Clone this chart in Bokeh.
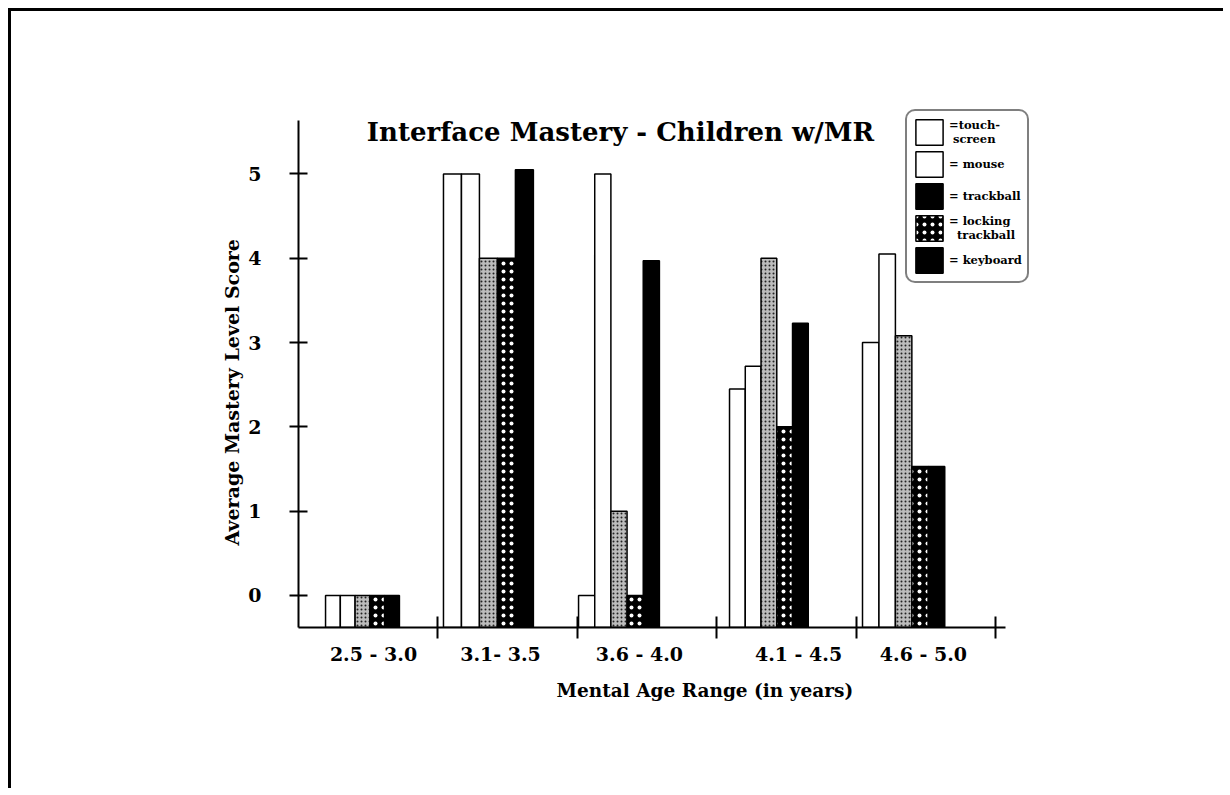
from bokeh.plotting import figure
from bokeh.models import Range1d, FixedTicker, Legend, LegendItem, Title, Label
from bokeh.embed import file_html
from bokeh.resources import INLINE

# ---------------- data ----------------
age_ranges = ["2.5 - 3.0", "3.1- 3.5", "3.6 - 4.0", "4.1 - 4.5", "4.6 - 5.0"]
touch_screen = [0, 5, 0, 2.45, 3.0]
mouse = [0, 5, 5, 2.72, 4.05]
trackball = [0, 4, 1, 4, 3.08]
locking_trackball = [0, 4, 0, 2, 1.53]
keyboard = [0, 5.05, 3.97, 3.23, 1.53]
y_ticks = [0, 1, 2, 3, 4, 5]

# ---------------- layout (positions in axis units) ----------------
group_offset = [0.194, 0.040, 0.009, 0.092, 0.046]
bar_width = [0.106, 0.129, 0.116, 0.113, 0.118]
label_pos = [0.538, 1.449, 2.446, 3.587, 4.483]
group_edges = [1, 2, 3, 4, 5]
Y_START, Y_END, Y_AXIS_TOP = -0.38, 5.812, 5.63
X_END, X_AXIS_END = 5.287, 5.07

FONT = "DejaVu Serif"

p = figure(width=1215, height=780, output_backend="svg", toolbar_location=None,
           x_range=Range1d(0, X_END), y_range=Range1d(Y_START, Y_END),
           min_border_left=287, min_border_right=191, min_border_top=94,
           min_border_bottom=164)
p.styles = {"border-top": "3px solid black", "border-left": "3px solid black",
            "margin-top": "8px", "margin-left": "8px"}
p.grid.visible = False
p.outline_line_color = None
p.background_fill_color = "white"
p.border_fill_color = "white"

series = [
    ("touch", touch_screen, dict(fill_color="white")),
    ("mouse", mouse, dict(fill_color="white")),
    ("trackball", trackball, dict(fill_color="#bcbcbc", hatch_pattern="dot",
                                  hatch_color="#222222", hatch_scale=4, hatch_weight=1)),
    ("locking", locking_trackball, dict(fill_color="black", hatch_pattern="dot",
                                        hatch_color="white", hatch_scale=8, hatch_weight=2)),
    ("keyboard", keyboard, dict(fill_color="black")),
]

renderers = {}
for k, (name, vals, style) in enumerate(series):
    xs = [g + group_offset[g] + (k + 0.5) * bar_width[g] for g in range(len(vals))]
    r = p.vbar(x=xs, width=bar_width, top=vals, bottom=Y_START,
               line_color="black", line_width=1.5, **style)
    renderers[name] = r

# ---------------- axes ----------------
xa = p.xaxis[0]
xa.bounds = (0, X_AXIS_END)
xa.ticker = FixedTicker(ticks=label_pos, minor_ticks=group_edges)
xa.major_label_overrides = {pos: lab for pos, lab in zip(label_pos, age_ranges)}
xa.major_tick_line_color = None
xa.major_tick_in = 0
xa.major_tick_out = 0
xa.minor_tick_in = 11
xa.minor_tick_out = 11
xa.minor_tick_line_width = 2
xa.minor_tick_line_color = "black"
xa.axis_line_width = 2
xa.axis_line_color = "black"
xa.major_label_standoff = 4
xa.major_label_text_font = FONT
xa.major_label_text_font_style = "bold"
xa.major_label_text_font_size = "19px"
xa.major_label_text_color = "black"

ya = p.yaxis[0]
ya.bounds = (Y_START, Y_AXIS_TOP)
ya.ticker = FixedTicker(ticks=y_ticks)
ya.minor_tick_line_color = None
ya.major_tick_in = 9
ya.major_tick_out = 9
ya.major_tick_line_width = 2
ya.major_tick_line_color = "black"
ya.axis_line_width = 2
ya.axis_line_color = "black"
ya.major_label_standoff = 28
ya.major_label_text_font = FONT
ya.major_label_text_font_style = "bold"
ya.major_label_text_font_size = "19px"
ya.major_label_text_color = "black"

ytitle = Title(text="Average Mastery Level Score", align="left", offset=82,
               text_font=FONT, text_font_style="bold", text_font_size="19px",
               text_color="black", standoff=6)
p.add_layout(ytitle, "left")

xtitle = Title(text="Mental Age Range (in years)", align="left", offset=258,
               text_font=FONT, text_font_style="bold", text_font_size="18.5px",
               text_color="black", standoff=20)
p.add_layout(xtitle, "below")

p.add_layout(Label(x=2.31, y=5.50, text="Interface Mastery - Children w/MR",
                   text_align="center", text_baseline="middle",
                   text_font=FONT, text_font_style="bold", text_font_size="26px",
                   text_color="black"))

# ---------------- legend ----------------
# the trackball swatch is solid black in the original legend
legend = Legend(items=[
    LegendItem(label="=touch-\n screen", renderers=[renderers["touch"]]),
    LegendItem(label="= mouse", renderers=[renderers["mouse"]]),
    LegendItem(label="= trackball", renderers=[renderers["keyboard"]]),
    LegendItem(label="= locking\n  trackball", renderers=[renderers["locking"]]),
    LegendItem(label="= keyboard", renderers=[renderers["keyboard"]]),
], location=(607, 344))
legend.glyph_width = 34
legend.glyph_height = 32
legend.spacing = 0
legend.padding = 5
legend.margin = 0
legend.label_standoff = 3
legend.label_text_font = FONT
legend.label_text_font_style = "bold"
legend.label_text_font_size = "11.5px"
legend.label_text_line_height = 1.0
legend.label_text_color = "black"
legend.border_line_color = "black"
legend.border_line_width = 2
legend.background_fill_color = "white"
legend.background_fill_alpha = 1.0
if "border_radius" in Legend.properties():
    legend.border_radius = 10
p.add_layout(legend, "center")

open("out.html", "w").write(file_html(p, INLINE))
